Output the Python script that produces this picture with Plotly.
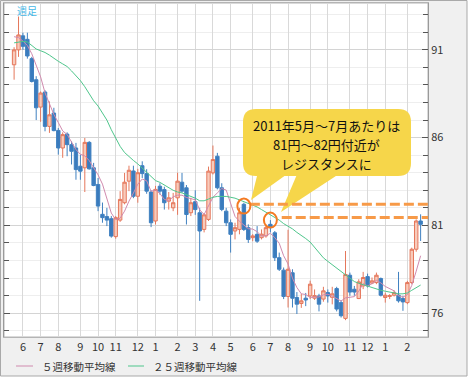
import plotly.graph_objects as go
import pandas as pd

# ---------------- data (USD/JPY weekly) ----------------
week_start = "2010-05-24"
n_weeks = 93
opens = [90.15, 91.0, 91.8, 91.6, 90.5, 89.3, 87.74, 88.6, 86.64, 87.4,
         86.41, 85.41, 86.2, 85.6, 85.41, 84.37, 84.28, 85.73, 84.28, 83.33,
         81.63, 81.5, 81.38, 80.36, 81.3, 82.29, 83.52, 84.1, 82.66, 84.4,
         83.95, 82.9, 81.25, 83.23, 83.04, 82.38, 82.0, 82.57, 83.46, 83.14,
         81.72, 82.35, 81.72, 80.77, 81.34, 83.99, 84.94, 83.14, 81.81, 81.15,
         80.68, 80.77, 82.2, 80.87, 80.3, 80.49, 80.3, 80.4, 81.06, 80.58,
         79.16, 78.45, 76.95, 78.3, 76.89, 76.55, 76.85, 76.98, 76.85, 76.98,
         76.8, 77.17, 76.9, 77.4, 76.6, 75.7, 78.16, 77.36, 76.83, 77.55,
         78.08, 77.71, 77.74, 77.97, 76.89, 76.95, 77.02, 77.02, 76.83, 76.6,
         77.74, 79.64, 81.25]
highs = [91.15, 92.9, 91.98, 91.98, 90.6, 89.5, 88.63, 88.7, 88.06, 87.7,
         86.55, 86.3, 86.3, 85.79, 85.7, 85.03, 85.98, 85.8, 84.56, 83.7,
         82.3, 82.0, 81.53, 81.53, 82.95, 83.99, 84.4, 84.4, 84.22, 84.65,
         84.2, 83.0, 83.25, 83.4, 83.2, 82.9, 82.85, 84.0, 83.99, 83.3,
         82.57, 83.0, 82.0, 81.7, 84.35, 85.55, 85.13, 83.4, 82.0, 81.34,
         81.15, 82.0, 82.29, 81.06, 80.5, 80.96, 80.77, 81.06, 81.3, 80.68,
         79.45, 78.6, 80.75, 78.5, 77.2, 77.1, 77.15, 77.85, 77.35, 77.1,
         77.5, 77.35, 77.5, 77.5, 76.75, 79.54, 78.31, 77.55, 77.93, 78.35,
         78.25, 78.03, 78.31, 78.03, 77.17, 77.08, 77.3, 78.35, 76.99, 77.84,
         79.73, 81.34, 81.63]
lows = [89.3, 90.6, 91.0, 90.5, 89.14, 87.0, 86.9, 86.36, 86.27, 86.36,
        85.03, 84.85, 84.94, 84.47, 83.6, 83.6, 82.9, 84.18, 83.23, 81.81,
        81.15, 80.96, 80.3, 80.24, 81.2, 82.2, 82.95, 82.55, 82.29, 83.7,
        82.8, 80.9, 81.05, 82.75, 81.9, 81.9, 81.81, 81.6, 82.86, 81.05,
        81.53, 81.6, 76.7, 80.6, 81.25, 83.9, 83.05, 81.81, 80.96, 79.45,
        80.2, 80.49, 80.68, 80.0, 80.1, 80.0, 80.2, 80.3, 80.6, 78.97,
        78.4, 76.8, 76.32, 76.32, 75.95, 76.3, 76.4, 76.8, 76.75, 76.1,
        76.65, 76.6, 76.5, 76.1, 75.75, 75.6, 76.99, 76.99, 76.8, 77.37,
        77.46, 77.65, 77.65, 76.95, 76.6, 76.8, 76.95, 76.6, 76.13, 76.51,
        77.65, 79.5, 80.11]
closes = [91.0, 91.85, 91.2, 90.65, 89.2, 87.7, 88.54, 86.64, 87.3, 86.4,
          85.41, 86.17, 85.6, 85.22, 84.18, 84.09, 85.73, 84.22, 83.27, 82.1,
          81.44, 81.3, 80.39, 81.44, 82.48, 83.46, 84.14, 82.66, 84.0, 83.95,
          82.95, 81.15, 83.05, 82.95, 82.29, 82.57, 82.29, 83.52, 82.95, 81.62,
          82.29, 81.9, 80.68, 81.6, 84.09, 84.75, 83.14, 81.91, 81.15, 80.49,
          80.87, 81.72, 80.77, 80.2, 80.4, 80.1, 80.5, 80.87, 80.87, 79.16,
          78.5, 76.95, 78.5, 76.85, 76.51, 76.7, 76.75, 77.65, 77.0, 76.51,
          77.27, 76.98, 77.1, 76.23, 75.85, 78.2, 77.2, 77.2, 77.78, 78.03,
          77.55, 77.84, 78.16, 77.02, 77.02, 77.0, 77.17, 76.7, 76.64, 77.74,
          79.64, 81.25, 81.06]
ma5 = [91.75, 91.7, 91.5, 91.25, 90.78, 90.12, 89.46, 88.55, 87.88, 87.32,
       86.86, 86.38, 86.18, 85.76, 85.32, 85.05, 84.96, 84.69, 84.30, 83.88,
       83.35, 82.47, 81.70, 81.33, 81.41, 81.81, 82.38, 82.84, 83.35, 83.64,
       83.54, 82.94, 83.02, 82.81, 82.48, 82.40, 82.63, 82.72, 82.72, 82.59,
       82.53, 82.46, 81.89, 81.62, 82.11, 82.60, 82.85, 83.10, 83.01, 82.29,
       81.51, 81.23, 81.00, 80.81, 80.79, 80.64, 80.39, 80.41, 80.55, 80.30,
       79.98, 79.27, 78.80, 77.99, 77.46, 77.10, 77.06, 76.89, 76.92, 76.92,
       77.04, 77.08, 76.97, 76.82, 76.69, 76.87, 76.92, 76.94, 77.25, 77.68,
       77.55, 77.68, 77.87, 77.72, 77.52, 77.41, 77.27, 76.98, 76.91, 77.05,
       77.58, 78.39, 79.27]
ma25 = [91.40, 91.45, 91.48, 91.45, 91.25, 91.05, 90.95, 90.85, 90.70, 90.50,
        90.35, 90.20, 90.05, 89.80, 89.55, 89.25, 88.90, 88.50, 88.10, 87.80,
        87.40, 87.00, 86.45, 85.95, 85.50, 85.15, 84.90, 84.70, 84.50, 84.25,
        84.00, 83.75, 83.55, 83.45, 83.30, 83.15, 83.00, 82.90, 82.85, 82.75,
        82.65, 82.55, 82.40, 82.40, 82.50, 82.60, 82.65, 82.67, 82.65, 82.60,
        82.55, 82.45, 82.35, 82.25, 82.15, 82.05, 81.90, 81.75, 81.60, 81.45,
        81.30, 81.10, 80.95, 80.80, 80.60, 80.45, 80.25, 80.05, 79.75, 79.45,
        79.15, 78.95, 78.75, 78.55, 78.35, 78.15, 78.00, 77.80, 77.70, 77.62,
        77.55, 77.45, 77.35, 77.30, 77.25, 77.20, 77.15, 77.10, 77.10, 77.15,
        77.30, 77.45, 77.60]

tick_dates = ["2010-06-07", "2010-07-05", "2010-08-02", "2010-09-06", "2010-10-04",
              "2010-11-01", "2010-12-06", "2011-01-03", "2011-02-07", "2011-03-07",
              "2011-04-04", "2011-05-02", "2011-06-06", "2011-07-04", "2011-08-01",
              "2011-09-05", "2011-10-03", "2011-11-07", "2011-12-05", "2012-01-02",
              "2012-02-06"]
tick_text = ["6", "7", "8", "9", "10", "11", "12", "1", "2", "3", "4", "5",
             "6", "7", "8", "9", "10", "11", "12", "1", "2"]

price_ticks = [76, 81, 86, 91]
resist_weeks = [52, 58]          # candles circled
resist_circle_y = [82.1, 81.3]
resist_levels = [82.2, 81.45]    # dashed resistance lines
callout_lines = ["2011年5月～7月あたりは", "81円～82円付近が", "レジスタンスに"]
legend_names = ["５週移動平均線", "２５週移動平均線"]
legend_colors = ["#d08aae", "#4fc68c"]
period_label = "週足"

dates = pd.date_range(week_start, periods=n_weeks, freq="7D")
FONT = "Noto Sans CJK JP, Noto Sans, sans-serif"

# ---------------- figure ----------------
fig = go.Figure()
fig.add_trace(go.Candlestick(
    x=dates, open=opens, high=highs, low=lows, close=closes,
    increasing=dict(line=dict(color="#e5775b", width=1), fillcolor="#f8cbbb"),
    decreasing=dict(line=dict(color="#3f80c0", width=1), fillcolor="#3a7bbd"),
    showlegend=False, hoverinfo="skip"))
for name, vals, col in zip(legend_names, [ma5, ma25], legend_colors):
    fig.add_trace(go.Scatter(x=dates, y=vals, mode="lines", name=name,
                             line=dict(color=col, width=1), showlegend=False))

# plot area in pixels
L, T, W, H = 4, 3, 424, 334
def px(x):
    return (x - L) / W
def py(y):
    return (T + H - y) / H

x_lo = dates[0] - pd.Timedelta(days=16)
x_hi = dates[-1] + pd.Timedelta(days=11.7)

shapes = []
# outer widget frame and white plot area
shapes.append(dict(type="rect", xref="paper", yref="paper", layer="below",
                   x0=px(0.5), x1=px(467), y0=py(376), y1=py(0.5),
                   fillcolor="#f0f0f0", line=dict(color="#a9a9a9", width=1)))
shapes.append(dict(type="rect", xref="paper", yref="paper", layer="below",
                   x0=0, x1=1, y0=0, y1=1, fillcolor="white",
                   line=dict(color="#b4b4b4", width=1)))

# callout (rounded box + two tails)
def P(x, y):
    return f"{px(x):.5f},{py(y):.5f}"
bx0, by0, bx1, by1, r = 243, 109, 411, 176, 13
box = (f"M {P(bx0+r,by0)} L {P(bx1-r,by0)} Q {P(bx1,by0)} {P(bx1,by0+r)} "
       f"L {P(bx1,by1-r)} Q {P(bx1,by1)} {P(bx1-r,by1)} L {P(bx0+r,by1)} "
       f"Q {P(bx0,by1)} {P(bx0,by1-r)} L {P(bx0,by0+r)} Q {P(bx0,by0)} {P(bx0+r,by0)} Z")
YEL = "#f6d64a"
for path in [f"M {P(258,172)} L {P(290,172)} L {P(251,200)} Z",
             f"M {P(298,172)} L {P(342,172)} L {P(281,212)} Z",
             box]:
    shapes.append(dict(type="path", xref="paper", yref="paper", path=path,
                       fillcolor=YEL, line=dict(width=0), layer="above"))

# dashed resistance lines + circles
ORG = "#f79a48"
start_offsets = [9.5, 18]
for w, lvl, off in zip(resist_weeks, resist_levels, start_offsets):
    shapes.append(dict(type="line", xref="x", yref="y",
                       x0=(dates[w] + pd.Timedelta(days=off)).isoformat(), x1=x_hi.isoformat(),
                       y0=lvl, y1=lvl, line=dict(color=ORG, width=3, dash="10px,4px")))
for w, cy in zip(resist_weeks, resist_circle_y):
    shapes.append(dict(type="circle", xref="x", yref="y",
                       xsizemode="pixel", xanchor=dates[w].isoformat(), x0=-6.5, x1=6.5,
                       ysizemode="pixel", yanchor=cy, y0=-7.5, y1=7.5,
                       line=dict(color="#f47a22", width=2)))

annotations = []
for k, line in enumerate(callout_lines):
    annotations.append(dict(xref="paper", yref="paper", x=px(326), y=py(125 + 19 * k),
                            text=line, showarrow=False, xanchor="center", yanchor="middle",
                            borderpad=0, height=15, valign="middle",
                            font=dict(family=FONT, size=13, color="#111")))
annotations.append(dict(xref="paper", yref="paper", x=px(15), y=py(11), text=period_label,
                        showarrow=False, xanchor="left", yanchor="middle",
                        font=dict(family=FONT, size=10, color="#45b6e6")))

# custom legend (short line + label)
leg_line_x = [(16, 33), (128, 144)]
leg_text_x = [40, 151]
for (a, b), tx, name, col in zip(leg_line_x, leg_text_x, legend_names, legend_colors):
    shapes.append(dict(type="line", xref="paper", yref="paper",
                       x0=px(a), x1=px(b), y0=py(366), y1=py(366),
                       line=dict(color=col, width=1)))
    annotations.append(dict(xref="paper", yref="paper", x=px(tx), y=py(366), text=name,
                            showarrow=False, xanchor="left", yanchor="middle",
                            font=dict(family=FONT, size=10.5, color="#333")))

fig.update_layout(
    width=472, height=382,
    margin=dict(l=L, r=472 - L - W, t=T, b=382 - T - H, pad=0),
    paper_bgcolor="white", plot_bgcolor="white",
    font=dict(family=FONT, size=11, color="#333"),
    shapes=shapes, annotations=annotations,
    boxgap=0.12, boxgroupgap=0.12,
    showlegend=False,
    hovermode=False,
)
fig.update_xaxes(
    type="date", range=[x_lo, x_hi], rangeslider=dict(visible=False),
    tickmode="array", tickvals=tick_dates, ticktext=tick_text,
    showgrid=True, gridcolor="#d9d9d9", gridwidth=1, ticks="",
    showline=True, linecolor="#b4b4b4", mirror=True,
    tickfont=dict(family=FONT, size=11, color="#333"), zeroline=False)
fig.update_yaxes(
    side="right", range=[74.64, 93.67], tickmode="array", tickvals=price_ticks,
    ticks="inside", ticklen=6, tickcolor="#555", tickwidth=1,
    showgrid=True, gridcolor="#d4d4d4",
    minor=dict(dtick=1, tick0=76, ticks="inside", ticklen=5, tickcolor="#555",
               showgrid=True, gridcolor="#eeeeee"),
    showline=True, linecolor="#9a9a9a", mirror="ticks",
    tickfont=dict(family=FONT, size=11, color="#333"), zeroline=False)

fig.write_html("out.html", config={"displayModeBar": False},
               post_script="document.body.style.margin='0px';")
